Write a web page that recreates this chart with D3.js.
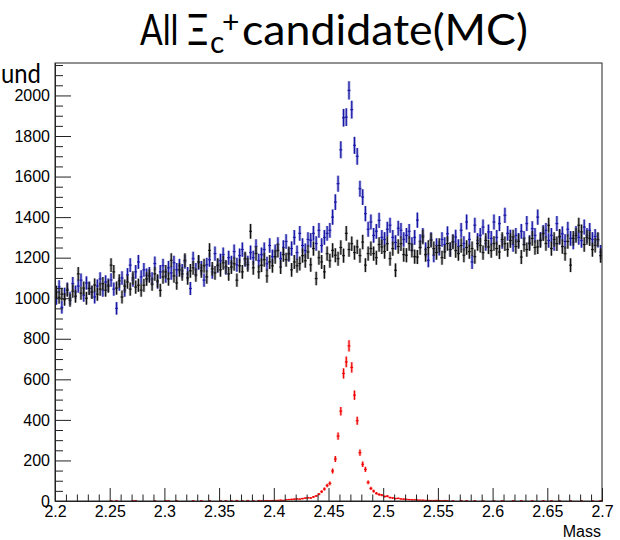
<!DOCTYPE html>
<html>
<head>
<meta charset="utf-8">
<script src="https://cdn.jsdelivr.net/npm/d3@7"></script>
<style>
body { margin: 0; background: #fff; }
</style>
</head>
<body>
<div id="chart-container"></div>
<script>
'use strict'

// histogram: 200 bins between 2.2 and 2.7
const massLow = 2.2
const massHigh = 2.7
const nBins = 200

const xTicks = [2.2, 2.25, 2.3, 2.35, 2.4, 2.45, 2.5, 2.55, 2.6, 2.65, 2.7]
const xTickLabels = ['2.2', '2.25', '2.3', '2.35', '2.4', '2.45', '2.5', '2.55', '2.6', '2.65', '2.7']
const yTicks = [0, 200, 400, 600, 800, 1000, 1200, 1400, 1600, 1800, 2000]

// black: background sample
const bkgCounts = [
    1030, 1005, 1020, 995, 1040, 990, 1035, 1010, 1120, 1025,
    1050, 1000, 1048, 1030, 1065, 1020, 1045, 1072, 1040, 1060,
    1163, 1130, 1050, 1085, 1006, 1060, 1080, 1045, 1100, 1055,
    1064, 1040, 1064, 1095, 1110, 1070, 1120, 1085, 1039, 1105,
    1130, 1095, 1187, 1110, 1075, 1140, 1120, 1187, 1100, 1135,
    1150, 1115, 1179, 1135, 1160, 1105, 1236, 1145, 1125, 1163,
    1140, 1175, 1155, 1120, 1154, 1170, 1089, 1160, 1130, 1195,
    1165, 1330, 1150, 1220, 1130, 1163, 1190, 1110, 1179, 1160,
    1205, 1236, 1154, 1215, 1190, 1220, 1140, 1179, 1160, 1171,
    1210, 1185, 1228, 1165, 1245, 1097, 1200, 1179, 1130, 1220,
    1185, 1236, 1212, 1195, 1250, 1210, 1320, 1240, 1269, 1225,
    1253, 1210, 1277, 1163, 1220, 1245, 1220, 1200, 1265, 1253,
    1230, 1269, 1195, 1245, 1138, 1255, 1269, 1215, 1212, 1270,
    1236, 1205, 1203, 1250, 1302, 1215, 1250, 1286, 1245, 1225,
    1260, 1200, 1228, 1270, 1240, 1277, 1235, 1220, 1260, 1212,
    1250, 1230, 1245, 1205, 1270, 1261, 1225, 1285, 1253, 1235,
    1270, 1245, 1228, 1290, 1269, 1240, 1285, 1302, 1255, 1280,
    1203, 1265, 1240, 1269, 1295, 1250, 1253, 1285, 1318, 1270,
    1360, 1245, 1290, 1269, 1305, 1255, 1220, 1280, 1163, 1295,
    1310, 1360, 1327, 1265, 1300, 1294, 1240, 1261, 1290, 1210
]

// blue: all candidates
const allCounts = [
    1000, 1056, 955, 1020, 1045, 1000, 1072, 1030, 1060, 1089,
    1015, 1075, 1050, 1030, 1006, 1060, 1095, 1040, 1080, 1065,
    1090, 1045, 950, 1070, 1100, 1040, 1115, 1163, 1090, 1130,
    1179, 1105, 1140, 1113, 1120, 1095, 1171, 1080, 1130, 1160,
    1110, 1150, 1125, 1175, 1140, 1160, 1135, 1180, 1120, 1048,
    1195, 1140, 1175, 1150, 1089, 1165, 1190, 1130, 1220, 1160,
    1185, 1215, 1150, 1200, 1175, 1230, 1165, 1210, 1240, 1190,
    1175, 1225, 1200, 1255, 1185, 1215, 1240, 1170, 1260, 1205,
    1230, 1265, 1195, 1250, 1280, 1215, 1245, 1300, 1225, 1320,
    1260, 1235, 1290, 1286, 1320, 1270, 1335, 1260, 1300, 1320,
    1335, 1400, 1474, 1565, 1732, 1890, 1893, 2025, 1930, 1754,
    1700, 1540, 1499, 1417, 1340, 1376, 1310, 1330, 1384, 1300,
    1290, 1340, 1360, 1300, 1275, 1345, 1335, 1290, 1310, 1330,
    1265, 1300, 1385, 1280, 1310, 1240, 1187, 1290, 1212, 1260,
    1246, 1290, 1265, 1318, 1240, 1280, 1302, 1255, 1335, 1270,
    1376, 1290, 1179, 1360, 1285, 1310, 1351, 1270, 1327, 1295,
    1376, 1300, 1368, 1280, 1409, 1320, 1302, 1265, 1310, 1286,
    1330, 1295, 1368, 1275, 1343, 1310, 1400, 1290, 1325, 1335,
    1285, 1310, 1270, 1368, 1300, 1318, 1280, 1340, 1295, 1277,
    1320, 1300, 1285, 1351, 1310, 1335, 1290, 1305, 1286, 1228
]

// red: truth-matched signal
const truthCounts = [
    0, 0, 0, 0, 0, 0, 0, 0, 0, 0,
    0, 0, 0, 0, 0, 0, 0, 0, 0, 0,
    1, 0, 1, 0, 0, 0, 0, 0, 1, 1,
    0, 0, 0, 0, 0, 0, 1, 0, 0, 0,
    1, 1, 0, 0, 1, 0, 0, 0, 0, 0,
    1, 0, 0, 1, 0, 0, 2, 0, 0, 0,
    1, 0, 1, 0, 1, 0, 2, 0, 1, 0,
    2, 0, 1, 0, 2, 1, 1, 2, 1, 2,
    2, 3, 4, 3, 6, 7, 8, 9, 10, 9,
    12, 14, 16, 15, 20, 25, 34, 46, 59, 76,
    87, 148, 207, 320, 443, 629, 686, 765, 659, 522,
    396, 238, 181, 156, 92, 62, 49, 38, 32, 29,
    22, 24, 17, 15, 12, 13, 10, 9, 8, 7,
    6, 6, 5, 4, 4, 3, 3, 2, 2, 3,
    2, 1, 2, 1, 0, 1, 0, 0, 2, 0,
    1, 0, 0, 1, 0, 0, 1, 0, 0, 0,
    1, 0, 0, 1, 0, 0, 0, 1, 0, 0,
    1, 0, 0, 0, 1, 0, 0, 0, 1, 0,
    0, 1, 0, 0, 1, 0, 0, 0, 1, 0,
    0, 0, 1, 0, 0, 0, 1, 0, 0, 1
]

const width = 620
const height = 540
const frame = { left: 55, right: 602, top: 63, bottom: 501 }
const labelFont = '"Liberation Sans", Arial, Helvetica, sans-serif'
const titleFont = 'Lato, "Noto Sans", sans-serif'

let svg = d3.select('#chart-container').append('svg')
    .attr('width', width)
    .attr('height', height)

let x = d3.scaleLinear()
    .domain([massLow, massHigh])
    .range([frame.left, frame.right])

let y = d3.scaleLinear()
    .domain([0, 2160])
    .range([frame.bottom, frame.top])

let binW = (massHigh - massLow) / nBins

svg.append('clipPath').attr('id', 'frameClip')
    .append('rect')
        .attr('x', frame.left)
        .attr('y', frame.top)
        .attr('width', frame.right - frame.left)
        .attr('height', frame.bottom - frame.top + 1)

// squeeze/stretch a text so it spans w pixels from its x
var fitText = function(sel, w) {
    let len = sel.node().getComputedTextLength()
    let x0 = +sel.attr('x')
    sel.attr('transform', 'translate(' + x0 + ',0) scale(' + (w / len) + ',1) translate(' + (-x0) + ',0)')
}

// title
let t1 = svg.append('text')
    .attr('x', 140).attr('y', 45)
    .attr('font-family', titleFont).attr('font-size', 42)
    .text('All Ξ')
fitText(t1, 68)
svg.append('text')
    .attr('x', 210).attr('y', 53)
    .attr('font-family', titleFont).attr('font-size', 30)
    .text('c')
svg.append('text')
    .attr('x', 222).attr('y', 33)
    .attr('font-family', titleFont).attr('font-size', 30)
    .text('+')
let t2 = svg.append('text')
    .attr('x', 242).attr('y', 45)
    .attr('font-family', titleFont).attr('font-size', 42)
    .text('candidate(MC)')
fitText(t2, 286)

// cut-off y title
let yTitle = svg.append('text')
    .attr('x', 1).attr('y', 83)
    .attr('font-family', titleFont).attr('font-size', 26)
    .text('und')
fitText(yTitle, 40)

// histograms drawn as error crosses
var drawHist = function(counts, core, halo) {
    let data = counts.map((v, i) => ({ c: massLow + (i + 0.5) * binW, v: v }))
        .filter(d => d.v > 0)
    let g = svg.append('g').attr('clip-path', 'url(#frameClip)')
    let layers = [
        { stroke: halo, w: 2.8, op: 0.55 },
        { stroke: core, w: 1.2, op: 1 }
    ]
    layers.forEach(l => {
        let lg = g.append('g')
            .attr('stroke', l.stroke)
            .attr('stroke-width', l.w)
            .attr('stroke-opacity', l.op)
        lg.selectAll('.ev').data(data)
            .enter().append('line')
            .attr('class', 'ev')
            .attr('x1', d => x(d.c)).attr('x2', d => x(d.c))
            .attr('y1', d => y(d.v - Math.sqrt(d.v)))
            .attr('y2', d => y(d.v + Math.sqrt(d.v)))
        lg.selectAll('.eh').data(data)
            .enter().append('line')
            .attr('class', 'eh')
            .attr('stroke-width', l.w === 2.8 ? 1.8 : 1)
            .attr('x1', d => x(d.c - binW / 2)).attr('x2', d => x(d.c + binW / 2))
            .attr('y1', d => y(d.v)).attr('y2', d => y(d.v))
    })
}

drawHist(allCounts, '#1616a6', '#6a6ac8')
drawHist(bkgCounts, '#111111', '#808080')
drawHist(truthCounts, '#f00000', '#ff8080')

// axes
let yMinor = d3.range(0, 2160, 50).filter(v => v % 200 !== 0)
let xMinor = d3.range(0, 51).map(i => massLow + i * 0.01).filter((v, i) => i % 5 !== 0)

svg.append('g')
    .attr('transform', 'translate(' + frame.left + ',0)')
    .call(d3.axisLeft(y).tickValues(yMinor).tickSize(-8).tickSizeOuter(0).tickFormat(''))
svg.append('g')
    .attr('transform', 'translate(0,' + frame.bottom + ')')
    .call(d3.axisBottom(x).tickValues(xMinor).tickSize(-6.5).tickSizeOuter(0).tickFormat(''))

let yAxis = svg.append('g')
    .attr('transform', 'translate(' + frame.left + ',0)')
    .call(d3.axisLeft(y).tickValues(yTicks).tickSize(-16).tickSizeOuter(0).tickPadding(5).tickFormat(d3.format('d')))
let xAxis = svg.append('g')
    .attr('transform', 'translate(0,' + frame.bottom + ')')
    .call(d3.axisBottom(x).tickValues(xTicks).tickSize(-13).tickSizeOuter(0).tickPadding(5)
        .tickFormat((d, i) => xTickLabels[i]))

svg.selectAll('.tick line').attr('stroke', '#222').attr('stroke-width', 1)
svg.selectAll('.domain').attr('stroke', '#222')
yAxis.selectAll('text').attr('font-family', labelFont).attr('font-size', 16).attr('fill', '#000')
xAxis.selectAll('text').attr('font-family', labelFont).attr('font-size', 16).attr('fill', '#000')

svg.append('rect')
    .attr('x', frame.left).attr('y', frame.top)
    .attr('width', frame.right - frame.left)
    .attr('height', frame.bottom - frame.top)
    .attr('fill', 'none')
    .attr('stroke', '#222')
    .attr('stroke-width', 1)

svg.append('text')
    .attr('x', 601).attr('y', 537)
    .attr('text-anchor', 'end')
    .attr('font-family', labelFont).attr('font-size', 16)
    .text('Mass')
</script>
</body>
</html>
